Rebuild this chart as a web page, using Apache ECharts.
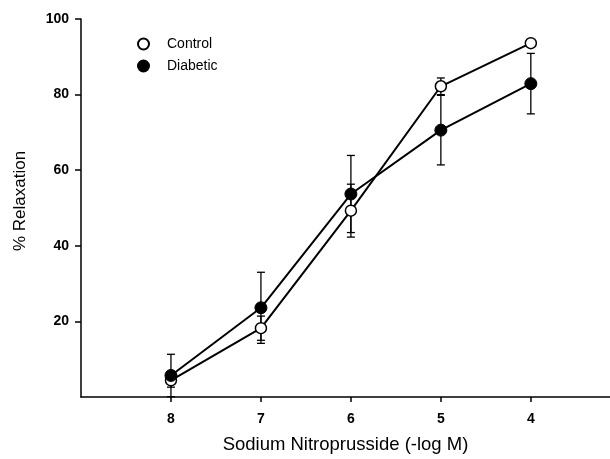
<!DOCTYPE html>
<html>
<head>
<meta charset="utf-8">
<title>Relaxation curve</title>
<script src="https://cdn.jsdelivr.net/npm/echarts@6/dist/echarts.min.js"></script>
<style>
  html, body { margin: 0; padding: 0; background: #fff; }
  #chart { width: 610px; height: 459px; }
</style>
</head>
<body>
<div id="chart"></div>
<script>
  // -log M concentrations
  var doses = [8, 7, 6, 5, 4];
  // mean % relaxation
  var controlMean = [4.4, 18.2, 49.3, 82.2, 93.6];
  var controlErr = [1.8, 3.2, 7.0, 2.2, 0.8];
  var diabeticMean = [5.7, 23.6, 53.7, 70.6, 82.9];
  var diabeticErr = [5.6, 9.4, 10.2, 9.2, 8.0];
  var xTicks = [8, 7, 6, 5, 4];
  var yTicks = [20, 40, 60, 80, 100];

  var font = "'Liberation Sans', Arial, sans-serif";

  function pairs(means) {
    return doses.map(function (d, i) { return [d, means[i]]; });
  }
  function bars(means, errs) {
    return doses.map(function (d, i) { return [d, means[i] - errs[i], means[i] + errs[i]]; });
  }

  // 误差线
  function errorItem(params, api) {
    var x = api.value(0);
    var lo = api.coord([x, api.value(1)]);
    var hi = api.coord([x, api.value(2)]);
    var w = 4;
    var style = { stroke: '#000', lineWidth: 1.3 };
    return {
      type: 'group',
      children: [
        { type: 'line', shape: { x1: lo[0], y1: lo[1], x2: hi[0], y2: hi[1] }, style: style },
        { type: 'line', shape: { x1: lo[0] - w, y1: lo[1], x2: lo[0] + w, y2: lo[1] }, style: style },
        { type: 'line', shape: { x1: hi[0] - w, y1: hi[1], x2: hi[0] + w, y2: hi[1] }, style: style }
      ]
    };
  }

  var chart = echarts.init(document.getElementById('chart'));
  chart.setOption({
    animation: false,
    backgroundColor: '#fff',
    grid: { left: 81, right: 0, top: 19, bottom: 60 },
    legend: {
      orient: 'vertical',
      left: 132,
      top: 32,
      itemWidth: 11,
      itemHeight: 11,
      itemGap: 8,
      icon: 'circle',
      textStyle: { fontFamily: font, fontSize: 14, color: '#000', padding: [0, 0, 0, 13] },
      data: ['Control', 'Diabetic']
    },
    xAxis: {
      type: 'value',
      inverse: true,
      min: 3.12,
      max: 9,
      name: 'Sodium Nitroprusside (-log M)',
      nameLocation: 'middle',
      nameGap: 38,
      nameTextStyle: { fontFamily: font, fontSize: 18.5, color: '#000' },
      axisLine: { lineStyle: { color: '#000', width: 1.5 } },
      axisTick: { customValues: xTicks, length: 5, lineStyle: { color: '#000', width: 1.5 } },
      axisLabel: { customValues: xTicks, fontFamily: font, fontSize: 14, fontWeight: 'bold', color: '#000', margin: 15 },
      splitLine: { show: false }
    },
    yAxis: {
      type: 'value',
      min: 0,
      max: 100,
      interval: 20,
      name: '% Relaxation',
      nameLocation: 'middle',
      nameGap: 52,
      nameTextStyle: { fontFamily: font, fontSize: 17, color: '#000', padding: [0, 0, 0, 14] },
      axisLine: { show: true, lineStyle: { color: '#000', width: 1.5 } },
      axisTick: { show: true, customValues: yTicks, length: 6, lineStyle: { color: '#000', width: 1.5 } },
      axisLabel: { customValues: yTicks, fontFamily: font, fontSize: 14, fontWeight: 'bold', color: '#000', margin: 12 },
      splitLine: { show: false }
    },
    series: [
      {
        name: 'Control err',
        type: 'custom',
        renderItem: errorItem,
        data: bars(controlMean, controlErr),
        z: 1
      },
      {
        name: 'Diabetic err',
        type: 'custom',
        renderItem: errorItem,
        data: bars(diabeticMean, diabeticErr),
        z: 1
      },
      {
        name: 'Control',
        type: 'line',
        data: pairs(controlMean),
        symbol: 'circle',
        symbolSize: 11,
        lineStyle: { color: '#000', width: 2 },
        itemStyle: { color: '#fff', borderColor: '#000', borderWidth: 1.5 },
        z: 3
      },
      {
        name: 'Diabetic',
        type: 'line',
        data: pairs(diabeticMean),
        symbol: 'circle',
        symbolSize: 12,
        lineStyle: { color: '#000', width: 2 },
        itemStyle: { color: '#000', borderColor: '#000', borderWidth: 1 },
        z: 3
      }
    ]
  });
</script>
</body>
</html>
